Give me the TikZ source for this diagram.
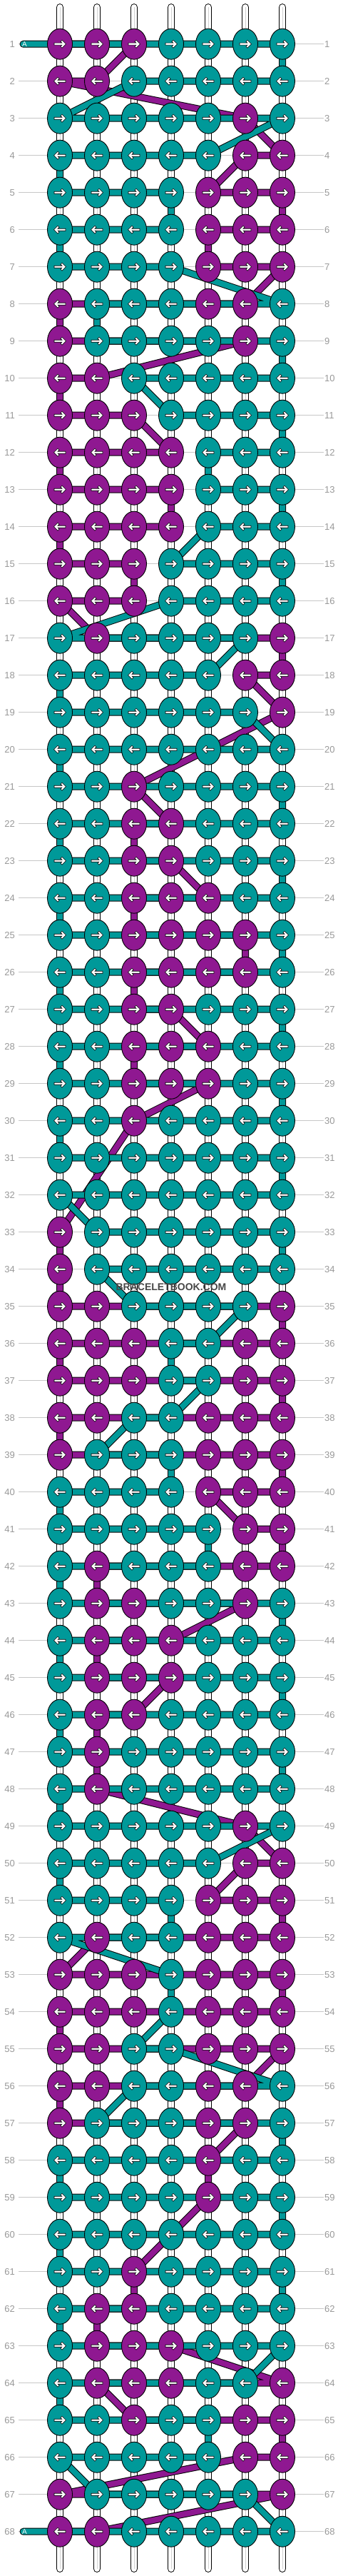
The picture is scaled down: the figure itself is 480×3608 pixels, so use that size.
\documentclass[tikz,border=0pt]{standalone}
\usepackage{fontspec}
\setmainfont{Liberation Sans}
\usetikzlibrary{shapes.geometric}

\definecolor{colt}{RGB}{0,153,153}
\definecolor{colp}{RGB}{143,24,145}

\pgfdeclarelayer{background}
\pgfdeclarelayer{warps}
\pgfdeclarelayer{threadp}
\pgfdeclarelayer{threadt}
\pgfsetlayers{background,warps,threadp,threadt,main}

\tikzset{
  knot/.style={ellipse, draw=black, line width=0.9pt, fill=col#1,
    minimum width=35pt, minimum height=43pt, inner sep=0pt},
  thread/.style={draw=black, line width=1pt, double=col#1,
    double distance=8pt, line cap=round},
  warp/.style={draw=black, line width=1pt, double=white,
    double distance=8.6pt, line cap=round},
  warpcore/.style={draw=black!18, line width=0.8pt},
  rowlabel/.style={font=\fontsize{13pt}{13pt}\selectfont, text=black!40, inner sep=0pt},
  rowline/.style={draw=black!22, line width=0.9pt},
  taglabel/.style={font=\fontsize{10pt}{10pt}\selectfont, text=white, inner sep=0pt},
  watermark/.style={font=\bfseries\fontsize{14pt}{14pt}\selectfont, text=black!72},
  knot arrow/.pic={
    \filldraw[fill=white, draw=black, line width=0.6pt]
      (8.5,0) -- (3,-5.5) -- (0.9,-3.4) -- (2.8,-1.5) -- (-8,-1.5) --
      (-8,1.5) -- (2.8,1.5) -- (0.9,3.4) -- (3,5.5) -- cycle;
  },
}

% knot colours, row 1 to 68 (p = purple, t = teal)
\def\braidpattern{%
{p,p,p,t,t,t,t},{p,p,t,t,t,t,t},{t,t,t,t,t,p,t},{t,t,t,t,t,p,p},%
{t,t,t,t,p,p,p},{t,t,t,t,p,p,p},{t,t,t,t,p,p,p},{p,t,t,t,p,p,t},%
{p,t,t,t,t,p,t},{p,p,t,t,t,t,t},{p,p,p,t,t,t,t},{p,p,p,p,t,t,t},%
{p,p,p,p,t,t,t},{p,p,p,p,t,t,t},{p,p,p,t,t,t,t},{p,p,p,t,t,t,t},%
{t,p,t,t,t,t,p},{t,t,t,t,t,p,p},{t,t,t,t,t,t,p},{t,t,t,t,t,t,t},%
{t,t,p,t,t,t,t},{t,t,p,p,t,t,t},{t,t,p,p,t,t,t},{t,t,p,p,p,t,t},%
{t,t,p,p,p,p,t},{t,t,p,p,p,p,t},{t,t,p,p,t,t,t},{t,t,p,p,p,t,t},%
{t,t,p,p,p,t,t},{t,t,p,t,t,t,t},{t,t,t,t,t,t,t},{t,t,t,t,t,t,t},%
{p,t,t,t,t,t,t},{p,t,t,t,t,t,t},{p,p,t,t,t,t,p},{p,p,p,t,t,p,p},%
{p,p,p,t,t,p,p},{p,p,t,t,p,p,p},{p,t,t,t,p,p,p},{t,t,t,t,p,p,p},%
{t,t,t,t,t,p,p},{t,p,t,t,t,p,p},{t,p,p,t,t,p,t},{t,p,p,p,t,t,t},%
{t,p,p,p,t,t,t},{t,p,p,t,t,t,t},{t,p,t,t,t,t,t},{t,p,t,t,t,t,t},%
{t,t,t,t,t,p,t},{t,t,t,t,t,p,p},{t,t,t,t,p,p,p},{t,p,t,t,p,p,p},%
{p,p,p,t,p,p,p},{p,p,p,t,p,p,p},{p,p,t,t,p,p,p},{p,p,t,t,p,p,t},%
{p,t,t,t,p,p,t},{t,t,t,t,p,t,t},{t,t,t,t,p,t,t},{t,t,t,t,t,t,t},%
{t,t,p,t,t,t,t},{t,p,p,t,t,t,t},{t,p,p,p,t,t,t},{t,p,p,p,t,t,p},%
{t,t,p,t,t,p,p},{t,t,t,t,t,p,p},{p,t,t,t,t,t,p},{p,p,t,t,t,t,t}%
}

\begin{document}
\begin{tikzpicture}[x=1pt, y=-1pt]
\useasboundingbox (0,0) rectangle (480,3608);

% Row numbers
\foreach \rw in {1,...,68} {
  \pgfmathsetmacro\yy{61.7+52*(\rw-1)}
  \node[rowlabel, anchor=east] (ll\rw) at (21,\yy) {\rw};
  \node[rowlabel, anchor=west] (rl\rw) at (455,\yy) {\rw};
}
\begin{pgfonlayer}{background}
  \fill[white] (0,0) rectangle (480,3608);
  \foreach \rw in {1,...,68}
    \draw[rowline] ([xshift=5pt]ll\rw.east) -- ([xshift=-1pt]rl\rw.west);
\end{pgfonlayer}

% Warp strings
\begin{pgfonlayer}{warps}
  \foreach \kn in {1,...,7} {
    \pgfmathsetmacro\xx{84+52*(\kn-1)}
    \coordinate (wtop\kn) at (\xx,10.3);
    \coordinate (wbot\kn) at (\xx,3597.7);
    \draw[warp] (wtop\kn) -- (wbot\kn);
    \draw[warpcore] (wtop\kn) -- (wbot\kn);
  }
\end{pgfonlayer}

% Knots
\foreach \rowlist [count=\rw] in \braidpattern {
  \foreach \cl [count=\kn] in \rowlist {
    \node[knot=\cl] (k\rw-\kn) at ({84+52*(\kn-1)},{61.7+52*(\rw-1)}) {};
    \expandafter\xdef\csname kc-\rw-\kn\endcsname{\cl}
    \ifodd\rw\relax
      \pic at (k\rw-\kn) {knot arrow};
    \else
      \pic[xscale=-1] at (k\rw-\kn) {knot arrow};
    \fi
  }
}

% Thread ends
\coordinate (tagA) at (32.5,61.7);
\coordinate (tagZ) at (32.5,3545.7);
\node[taglabel] (tagAlabel) at ([xshift=2pt]tagA) {A};
\node[taglabel] (tagZlabel) at ([xshift=2pt]tagZ) {A};

% Threads, row by row in knotting order
\gdef\lastp{}\gdef\lastt{tagA}
\gdef\pathp{}\gdef\patht{}
\foreach \rw in {1,...,68} {
  \foreach \ii in {1,...,7} {
    \ifodd\rw\relax \edef\kn{\ii}\else \pgfmathtruncatemacro\kn{8-\ii}\fi
    \edef\cl{\csname kc-\rw-\kn\endcsname}
    \edef\prev{\csname last\cl\endcsname}
    \ifx\prev\empty\else
      \expandafter\xdef\csname path\cl\endcsname{\csname path\cl\endcsname
        (\prev.center) -- (k\rw-\kn.center) }
    \fi
    \expandafter\xdef\csname last\cl\endcsname{k\rw-\kn}
  }
}
\begin{pgfonlayer}{threadp}
  \draw[thread=p] \pathp;
\end{pgfonlayer}
\begin{pgfonlayer}{threadt}
  \draw[thread=t] \patht (\lastt.center) -- (tagZ.center);
\end{pgfonlayer}

% Watermark
\node[watermark] (wm) at (240,1803) {BRACELETBOOK.COM};
\end{tikzpicture}
\end{document}
